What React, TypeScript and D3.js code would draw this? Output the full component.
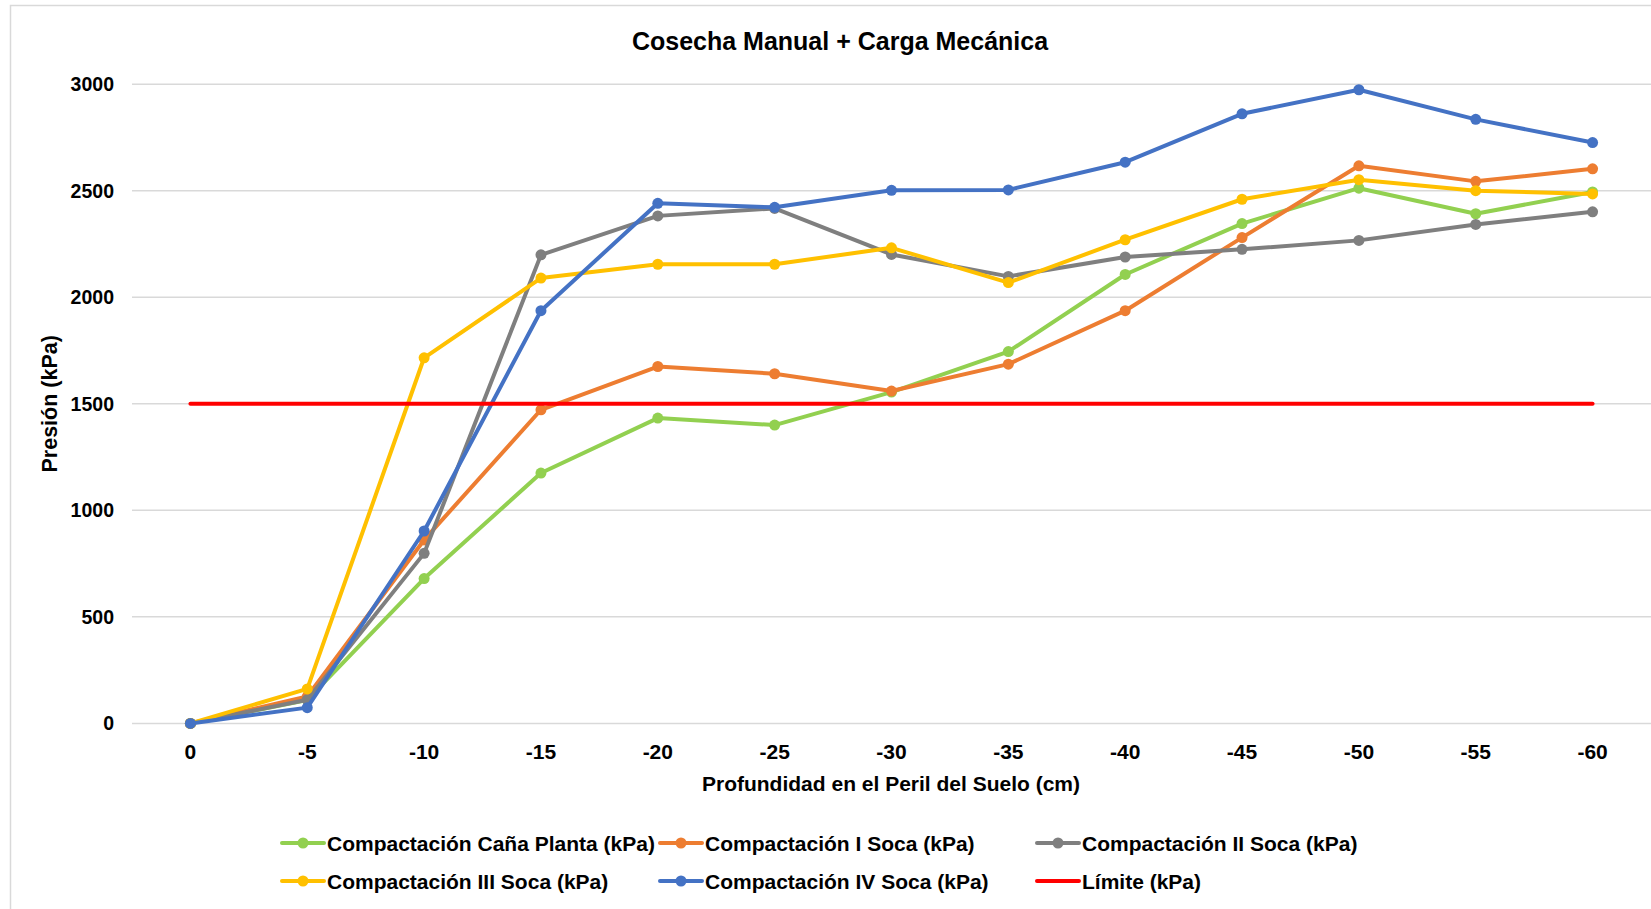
import React from "react";
import * as d3 from "d3";

const categories = ["0", "-5", "-10", "-15", "-20", "-25", "-30", "-35", "-40", "-45", "-50", "-55", "-60"];
const canaPlanta = [0, 110, 680, 1175, 1433, 1400, 1555, 1745, 2107, 2346, 2512, 2392, 2494];
const iSoca = [0, 126, 861, 1472, 1675, 1641, 1560, 1686, 1937, 2280, 2617, 2544, 2603];
const iiSoca = [0, 111, 798, 2199, 2382, 2417, 2201, 2098, 2189, 2225, 2267, 2342, 2401];
const iiiSoca = [0, 162, 1716, 2090, 2155, 2155, 2232, 2069, 2270, 2460, 2552, 2500, 2485];
const ivSoca = [0, 74, 903, 1937, 2441, 2422, 2502, 2504, 2634, 2861, 2974, 2835, 2726];
const limite = [1500, 1500, 1500, 1500, 1500, 1500, 1500, 1500, 1500, 1500, 1500, 1500, 1500];
const yTicks = [0, 500, 1000, 1500, 2000, 2500, 3000];

const seriesNames = [
  "Compactación Caña Planta (kPa)",
  "Compactación I Soca (kPa)",
  "Compactación II Soca (kPa)",
  "Compactación III Soca (kPa)",
  "Compactación IV Soca (kPa)",
  "Límite (kPa)",
];
const seriesColors = ["#92D050", "#ED7D31", "#7F7F7F", "#FFC000", "#4472C4", "#FF0000"];
const seriesValues = [canaPlanta, iSoca, iiSoca, iiiSoca, ivSoca, limite];
const seriesMarkers = [true, true, true, true, true, false];

const W = 1651;
const H = 909;
const FONT = "'Liberation Sans', Arial, sans-serif";

export default function App() {
  const plotLeft = 132;
  const plotRight = 1651;
  const step = (plotRight - plotLeft) / categories.length;
  const x = d3
    .scalePoint<string>()
    .domain(categories)
    .range([plotLeft + step / 2, plotRight - step / 2]);
  const y = d3.scaleLinear().domain([0, 3000]).range([723.4, 84.2]);

  const line = d3
    .line<number>()
    .x((_, i) => x(categories[i]) as number)
    .y((d) => y(d));

  const legendPos = [
    { x: 282, y: 843 },
    { x: 660, y: 843 },
    { x: 1037, y: 843 },
    { x: 282, y: 881 },
    { x: 660, y: 881 },
    { x: 1037, y: 881 },
  ];

  return (
    <svg
      width={W}
      height={H}
      style={{ position: "absolute", left: 0, top: 0, background: "#fff" }}
      fontFamily={FONT}
    >
      <rect x={0} y={0} width={W} height={H} fill="#fff" />
      <rect x={10.5} y={5.5} width={W + 20} height={H + 20} fill="none" stroke="#D9D9D9" strokeWidth={1.5} />

      <text x={840} y={41} textAnchor="middle" dominantBaseline="central" fontSize={25} fontWeight="bold" fill="#000">
        Cosecha Manual + Carga Mecánica
      </text>

      {yTicks.map((t) => (
        <g key={t}>
          <line x1={plotLeft} x2={plotRight} y1={y(t)} y2={y(t)} stroke="#D9D9D9" strokeWidth={1.5} />
          <text x={114} y={y(t)} textAnchor="end" dominantBaseline="central" fontSize={19.5} fontWeight="bold" fill="#000">
            {t}
          </text>
        </g>
      ))}

      {categories.map((c) => (
        <text key={c} x={x(c)} y={751} textAnchor="middle" dominantBaseline="central" fontSize={21} fontWeight="bold" fill="#000">
          {c}
        </text>
      ))}

      <text
        transform={`translate(49.5,403.8) rotate(-90)`}
        textAnchor="middle"
        dominantBaseline="central"
        fontSize={21.5}
        fontWeight="bold"
        fill="#000"
      >
        Presión (kPa)
      </text>
      <text x={891} y={783} textAnchor="middle" dominantBaseline="central" fontSize={21} fontWeight="bold" fill="#000">
        Profundidad en el Peril del Suelo (cm)
      </text>

      {seriesValues.map((vals, si) => (
        <g key={si}>
          <path d={line(vals) || ""} fill="none" stroke={seriesColors[si]} strokeWidth={4} strokeLinejoin="round" strokeLinecap="round" />
          {seriesMarkers[si] &&
            vals.map((v, i) => (
              <circle key={i} cx={x(categories[i])} cy={y(v)} r={5.5} fill={seriesColors[si]} />
            ))}
        </g>
      ))}

      {seriesNames.map((n, si) => {
        const p = legendPos[si];
        return (
          <g key={n}>
            <line x1={p.x} x2={p.x + 42} y1={p.y} y2={p.y} stroke={seriesColors[si]} strokeWidth={4} strokeLinecap="round" />
            {seriesMarkers[si] && <circle cx={p.x + 21} cy={p.y} r={5.5} fill={seriesColors[si]} />}
            <text x={p.x + 45} y={p.y} dominantBaseline="central" fontSize={21} fontWeight="bold" fill="#000">
              {n}
            </text>
          </g>
        );
      })}
    </svg>
  );
}
